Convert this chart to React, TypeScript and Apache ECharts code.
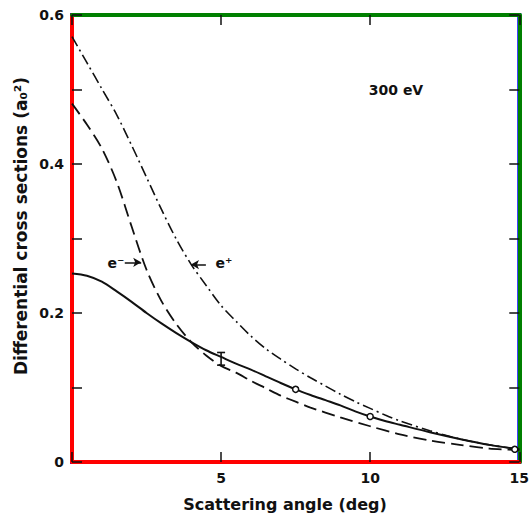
import React, { useEffect, useRef } from 'react';
import * as echarts from 'echarts';

// Solid curve
const solidAngles = [0, 0.5, 1, 1.5, 2, 2.5, 3, 3.5, 4, 4.5, 5, 5.5, 6, 6.5, 7, 7.5, 8, 8.5, 9, 9.5, 10, 10.5, 11, 12, 13, 14, 15];
const solidValues = [0.253, 0.250, 0.242, 0.229, 0.215, 0.200, 0.186, 0.173, 0.161, 0.150, 0.141, 0.132, 0.124, 0.115, 0.106, 0.0975, 0.090, 0.083, 0.076, 0.068, 0.061, 0.055, 0.050, 0.040, 0.031, 0.023, 0.017];

// Dashed curve (e-)
const electronAngles = [0, 0.5, 1, 1.5, 2, 2.5, 3, 3.5, 4, 4.5, 5, 5.5, 6, 6.5, 7, 7.5, 8, 9, 10, 11, 12, 13, 14, 15];
const electronValues = [0.481, 0.453, 0.421, 0.376, 0.316, 0.258, 0.216, 0.185, 0.161, 0.143, 0.129, 0.120, 0.109, 0.099, 0.089, 0.081, 0.073, 0.060, 0.048, 0.037, 0.029, 0.023, 0.018, 0.016];

// Dash-dot curve (e+)
const positronAngles = [0, 0.5, 1, 1.5, 2, 2.5, 3, 3.5, 4, 4.5, 5, 5.5, 6, 6.5, 7, 7.5, 8, 8.5, 9, 9.5, 10, 10.5, 11, 12, 13, 14, 15];
const positronValues = [0.571, 0.536, 0.501, 0.466, 0.425, 0.382, 0.339, 0.299, 0.265, 0.237, 0.210, 0.189, 0.169, 0.152, 0.138, 0.125, 0.113, 0.102, 0.091, 0.081, 0.072, 0.063, 0.055, 0.042, 0.031, 0.023, 0.017];

// Open-circle data points
const pointAngles = [7.5, 10, 14.85];
const pointValues = [0.0975, 0.061, 0.017];

// Error bar at 5 deg: [angle, low, high]
const errorBars = [[5, 0.130, 0.147]];

// Arrows [from, to]
const electronArrow = [[1.77, 0.268], [2.32, 0.268]];
const positronArrow = [[4.49, 0.265], [3.99, 0.265]];

const zip = (a: number[], b: number[]) => a.map((x, i) => [x, b[i]]);

const FONT = 'DejaVu Sans';
const INK = '#111';

export default function App() {
  const ref = useRef<HTMLDivElement>(null);
  useEffect(() => {
    const chart = echarts.init(ref.current!, null, { renderer: 'svg' });
    const tick = { show: true, inside: true, length: 10, lineStyle: { color: INK, width: 1.5 } };
    chart.setOption({
      animation: false,
      grid: { left: 72, top: 15, right: 9, bottom: 55, show: true, borderColor: 'blue', borderWidth: 4 },
      xAxis: [
        {
          type: 'value', min: 0, max: 15, interval: 5, position: 'bottom',
          axisLine: { show: true, onZero: false, lineStyle: { color: 'red', width: 4 } },
          axisTick: tick, splitLine: { show: false },
          axisLabel: {
            margin: 9, color: INK, fontFamily: FONT, fontWeight: 'bold', fontSize: 14,
            formatter: (v: number) => (v === 0 ? '' : String(v)),
          },
        },
        {
          type: 'value', min: 0, max: 15, interval: 5, position: 'top',
          axisLine: { show: true, onZero: false, lineStyle: { color: 'green', width: 4 } },
          axisTick: tick, splitLine: { show: false }, axisLabel: { show: false },
        },
      ],
      yAxis: [
        {
          type: 'value', min: 0, max: 0.6, interval: 0.1, position: 'left',
          axisLine: { show: true, onZero: false, lineStyle: { color: 'red', width: 4 } },
          axisTick: tick, splitLine: { show: false },
          axisLabel: {
            margin: 8, color: INK, fontFamily: FONT, fontWeight: 'bold', fontSize: 14,
            formatter: (v: number) => {
              const k = Math.round(v * 10);
              if (k % 2) return '';
              return k === 0 ? '0' : (k / 10).toFixed(1);
            },
          },
        },
        {
          type: 'value', min: 0, max: 0.6, interval: 0.1, position: 'right',
          axisLine: { show: true, onZero: false, lineStyle: { color: 'green', width: 4 } },
          axisTick: tick, splitLine: { show: false }, axisLabel: { show: false },
        },
      ],
      series: [
        {
          name: 'solid', type: 'line', data: zip(solidAngles, solidValues),
          smooth: 0.3, symbol: 'none',
          lineStyle: { color: INK, width: 2 }, z: 3,
        },
        {
          name: 'e-', type: 'line', data: zip(electronAngles, electronValues),
          smooth: 0.3, symbol: 'none',
          lineStyle: { color: INK, width: 1.8, type: [13, 6] }, z: 3,
          markLine: {
            silent: true, symbol: ['none', 'arrow'], symbolSize: [7, 8],
            label: { show: false },
            lineStyle: { color: INK, width: 1.5, type: 'solid' },
            data: [
              [{ coord: electronArrow[0] }, { coord: electronArrow[1] }],
              [{ coord: positronArrow[0] }, { coord: positronArrow[1] }],
            ],
          },
        },
        {
          name: 'e+', type: 'line', data: zip(positronAngles, positronValues),
          smooth: 0.3, symbol: 'none',
          lineStyle: { color: INK, width: 1.6, type: [11, 4, 2, 4] }, z: 3,
        },
        {
          name: 'points', type: 'scatter', data: zip(pointAngles, pointValues),
          symbol: 'circle', symbolSize: 6,
          itemStyle: { color: '#fff', borderColor: INK, borderWidth: 1.5, opacity: 1 }, z: 7,
        },
        {
          name: 'errorbar', type: 'custom', data: errorBars, z: 5,
          renderItem: (_params: any, api: any) => {
            const x = api.value(0);
            const lo = api.coord([x, api.value(1)]);
            const hi = api.coord([x, api.value(2)]);
            const w = 4;
            const style = { stroke: INK, lineWidth: 1.6 };
            return {
              type: 'group',
              children: [
                { type: 'line', shape: { x1: lo[0], y1: lo[1], x2: hi[0], y2: hi[1] }, style },
                { type: 'line', shape: { x1: lo[0] - w, y1: lo[1], x2: lo[0] + w, y2: lo[1] }, style },
                { type: 'line', shape: { x1: hi[0] - w, y1: hi[1], x2: hi[0] + w, y2: hi[1] }, style },
              ],
            };
          },
        },
      ],
      graphic: [
        {
          type: 'text', x: 396, y: 90,
          style: { text: '300 eV', fill: INK, font: `bold 14px "${FONT}"`, textAlign: 'center', textVerticalAlign: 'middle' },
        },
        {
          type: 'text', x: 116, y: 263,
          style: { text: 'e⁻', fill: INK, font: `bold 14px "${FONT}"`, textAlign: 'center', textVerticalAlign: 'middle' },
        },
        {
          type: 'text', x: 224, y: 263,
          style: { text: 'e⁺', fill: INK, font: `bold 14px "${FONT}"`, textAlign: 'center', textVerticalAlign: 'middle' },
        },
        {
          type: 'text', x: 285, y: 504,
          style: { text: 'Scattering angle (deg)', fill: INK, font: `bold 16px "${FONT}"`, textAlign: 'center', textVerticalAlign: 'middle' },
        },
        {
          type: 'text', x: 21, y: 226, rotation: Math.PI / 2,
          style: { text: 'Differential cross sections (a₀²)', fill: INK, font: `bold 17px "${FONT}"`, textAlign: 'center', textVerticalAlign: 'middle' },
        },
      ],
    });
    return () => chart.dispose();
  }, []);
  return <div ref={ref} style={{ position: 'absolute', left: 0, top: 0, width: 532, height: 517 }} />;
}
